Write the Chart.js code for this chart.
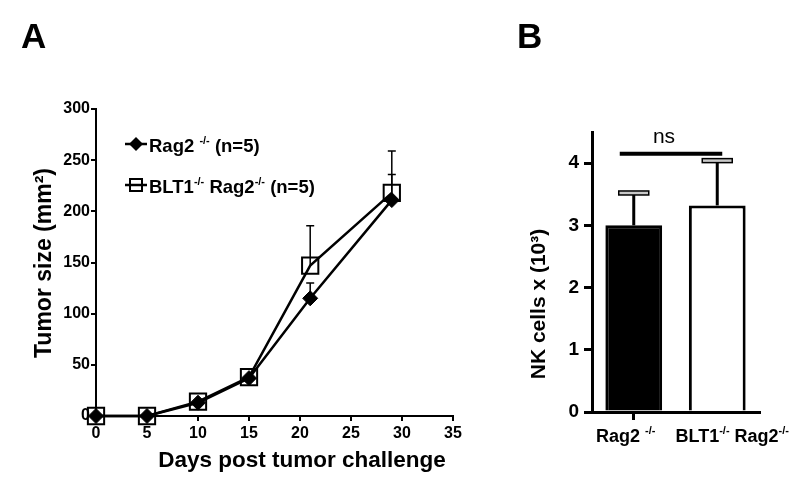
<!DOCTYPE html>
<html><head><meta charset="utf-8">
<script src="https://cdn.jsdelivr.net/npm/chart.js@4.4.0/dist/chart.umd.min.js"></script>
<style>
html,body{margin:0;padding:0;background:#fff;width:800px;height:488px;overflow:hidden}
#wa{position:absolute;left:0;top:0;width:480px;height:488px}
#wb{position:absolute;left:480px;top:0;width:320px;height:488px}
</style></head><body>
<div id="wa"><canvas id="ca" width="480" height="488"></canvas></div>
<div id="wb"><canvas id="cb" width="320" height="488"></canvas></div>
<script>
// ---------- data: panel A ----------
const days = [0, 5, 10, 15, 21, 29];
const rag2Size = [0, 0, 13, 37, 115, 211];
const rag2Err  = [null, null, null, null, 15, 25];
const blt1Size = [0, 0, 14, 38, 147, 218];
const blt1Err  = [null, null, null, null, 39, 41];
const seriesNames = ['Rag2 -/- (n=5)', 'BLT1-/- Rag2-/- (n=5)'];
const xTitleA = 'Days post tumor challenge';
const yTitleA = 'Tumor size (mm\u00B2)';
// ---------- data: panel B ----------
const groups = ['Rag2 -/-', 'BLT1-/- Rag2-/-'];
const nkCells = [3.0, 3.32];
const nkErr = [0.52, 0.72];
const yTitleB = 'NK cells x (10\u00B3)';
const sigLabel = 'ns';
const sigLevel = 4.15;

const FF = '"Liberation Sans", Arial, Helvetica, sans-serif';

function drawRich(ctx, text, x, y, size, align) {
  const parts = text.split(/(-\/-)/).filter(s => s.length);
  const supSize = Math.round(size * 0.6);
  const fnt = sup => `bold ${sup ? supSize : size}px ${FF}`;
  let total = 0;
  const ws = parts.map(p => { ctx.font = fnt(p === '-/-'); const w = ctx.measureText(p).width; total += w; return w; });
  let cx = align === 'center' ? x - total / 2 : x;
  ctx.textAlign = 'left'; ctx.textBaseline = 'alphabetic'; ctx.fillStyle = '#000';
  parts.forEach((p, i) => {
    const sup = p === '-/-';
    ctx.font = fnt(sup);
    ctx.fillText(p, cx, sup ? y - size * 0.42 : y);
    cx += ws[i];
  });
}
function diamond(ctx, x, y, r) {
  ctx.beginPath(); ctx.moveTo(x, y - r); ctx.lineTo(x + r, y); ctx.lineTo(x, y + r); ctx.lineTo(x - r, y); ctx.closePath();
  ctx.fillStyle = '#000'; ctx.fill();
}
function square(ctx, x, y, h) {
  ctx.lineWidth = 2; ctx.strokeStyle = '#000'; ctx.strokeRect(x - h, y - h, 2 * h, 2 * h);
}

const panelA = {
  id: 'panelA',
  beforeDatasetsDraw(chart) {
    const { ctx, scales: { x, y } } = chart;
    ctx.save(); ctx.strokeStyle = '#000'; ctx.lineWidth = 1.5;
    chart.data.datasets.forEach(ds => {
      ds.data.forEach((pt, i) => {
        const e = ds.err[i];
        if (e == null) return;
        const px = x.getPixelForValue(pt.x);
        const y0 = y.getPixelForValue(pt.y), y1 = y.getPixelForValue(pt.y + e);
        ctx.beginPath(); ctx.moveTo(px, y0); ctx.lineTo(px, y1);
        ctx.moveTo(px - 4, y1); ctx.lineTo(px + 4, y1); ctx.stroke();
      });
    });
    ctx.restore();
  },
  afterDraw(chart) {
    const ctx = chart.ctx;
    ctx.save();
    const rows = [144, 185];
    rows.forEach((ry, i) => {
      ctx.strokeStyle = '#000'; ctx.lineWidth = 2.5;
      ctx.beginPath(); ctx.moveTo(125, ry); ctx.lineTo(147, ry); ctx.stroke();
      if (i === 0) diamond(ctx, 136, ry, 7); else square(ctx, 136, ry, 6);
      drawRich(ctx, seriesNames[i], 149, ry + 8, 18.5, 'left');
    });
    ctx.fillStyle = '#000';
    ctx.font = `bold 22.5px ${FF}`; ctx.textAlign = 'center'; ctx.textBaseline = 'alphabetic';
    ctx.fillText(xTitleA, 302, 467);
    ctx.save(); ctx.translate(51, 263); ctx.rotate(-Math.PI / 2);
    ctx.font = `bold 23px ${FF}`; ctx.fillText(yTitleA, 0, 0); ctx.restore();
    ctx.font = `bold 35px ${FF}`; ctx.textAlign = 'left';
    ctx.fillText('A', 21, 48);
    ctx.restore();
  }
};

const axisCommonA = {
  border: { display: true, color: '#000', width: 2 },
  grid: { display: true, drawOnChartArea: false, drawTicks: true, tickLength: 5, color: '#000', lineWidth: 2 },
};

new Chart(document.getElementById('ca'), {
  type: 'line',
  data: {
    datasets: [
      { label: seriesNames[0], data: days.map((d, i) => ({ x: d, y: rag2Size[i] })), err: rag2Err,
        borderColor: '#000', borderWidth: 2.5, pointStyle: 'rectRot', pointRadius: 7.5,
        pointBackgroundColor: '#000', pointBorderColor: '#000', pointBorderWidth: 1, clip: false, tension: 0 },
      { label: seriesNames[1], data: days.map((d, i) => ({ x: d, y: blt1Size[i] })), err: blt1Err,
        borderColor: '#000', borderWidth: 2.5, pointStyle: 'rect', pointRadius: 11.5,
        pointBackgroundColor: 'rgba(255,255,255,0)', pointBorderColor: '#000', pointBorderWidth: 2, clip: false, tension: 0 }
    ]
  },
  options: {
    responsive: false, animation: false, events: [],
    layout: { padding: { top: 109, right: 27, left: 0, bottom: 0 } },
    plugins: { legend: { display: false }, tooltip: { enabled: false } },
    scales: {
      x: Object.assign({ type: 'linear', min: 0, max: 35,
        ticks: { stepSize: 5, color: '#000', font: { family: FF, size: 16, weight: 'bold' }, padding: 3, maxRotation: 0 },
        afterFit(s) { s.height = 72; } }, axisCommonA),
      y: Object.assign({ type: 'linear', min: 0, max: 300,
        ticks: { stepSize: 50, color: '#000', font: { family: FF, size: 16, weight: 'bold' }, padding: 1 },
        afterFit(s) { s.width = 96; } }, axisCommonA)
    }
  },
  plugins: [panelA]
});

// ---------- panel B ----------
const labelShift = [-8, 15];
const panelB = {
  id: 'panelB',
  afterDatasetsDraw(chart) {
    const { ctx, scales: { x, y } } = chart;
    ctx.save();
    chart.data.datasets[0].data.forEach((v, i) => {
      const px = x.getPixelForValue(i);
      const y0 = y.getPixelForValue(v), y1 = y.getPixelForValue(v + nkErr[i]);
      ctx.strokeStyle = '#000'; ctx.lineWidth = 3;
      ctx.beginPath(); ctx.moveTo(px, y0); ctx.lineTo(px, y1); ctx.stroke();
      ctx.fillStyle = '#c8c8c8'; ctx.fillRect(px - 15, y1 - 2, 30, 4);
      ctx.lineWidth = 1.5; ctx.strokeRect(px - 15, y1 - 2, 30, 4);
    });
    const ys = y.getPixelForValue(sigLevel);
    const xa = x.getPixelForValue(0) - 14, xb = x.getPixelForValue(1) + 5;
    ctx.lineWidth = 4; ctx.strokeStyle = '#000';
    ctx.beginPath(); ctx.moveTo(xa, ys); ctx.lineTo(xb, ys); ctx.stroke();
    ctx.fillStyle = '#000'; ctx.font = `21px ${FF}`; ctx.textAlign = 'center'; ctx.textBaseline = 'alphabetic';
    ctx.fillText(sigLabel, (xa + xb) / 2 - 7, ys - 11);
    ctx.restore();
  },
  afterDraw(chart) {
    const { ctx, scales: { x } } = chart;
    ctx.save();
    groups.forEach((g, i) => drawRich(ctx, g, x.getPixelForValue(i) + labelShift[i], 442, 18, 'center'));
    ctx.fillStyle = '#000';
    ctx.save(); ctx.translate(65, 304); ctx.rotate(-Math.PI / 2);
    ctx.font = `bold 21px ${FF}`; ctx.textAlign = 'center'; ctx.textBaseline = 'alphabetic';
    ctx.fillText(yTitleB, 0, 0); ctx.restore();
    ctx.font = `bold 35px ${FF}`; ctx.textAlign = 'left'; ctx.textBaseline = 'alphabetic';
    ctx.fillText('B', 37, 48);
    ctx.restore();
  }
};

new Chart(document.getElementById('cb'), {
  type: 'bar',
  data: {
    labels: groups,
    datasets: [{ data: nkCells, backgroundColor: ['#000', '#fff'], borderColor: '#000', borderWidth: 3,
      barPercentage: 0.68, categoryPercentage: 1 }]
  },
  options: {
    responsive: false, animation: false, events: [],
    layout: { padding: { top: 132, right: 41, left: 0, bottom: 0 } },
    plugins: { legend: { display: false }, tooltip: { enabled: false } },
    scales: {
      x: { type: 'category', offset: true,
        border: { display: true, color: '#000', width: 3 },
        grid: { display: true, offset: false, drawOnChartArea: false, drawTicks: true, tickLength: 8, color: '#000', lineWidth: 3 },
        ticks: { color: 'rgba(0,0,0,0)', font: { family: FF, size: 16, weight: 'bold' } },
        afterFit(s) { s.height = 76; } },
      y: { type: 'linear', min: 0, max: 4.5,
        border: { display: true, color: '#000', width: 3 },
        grid: { display: true, drawOnChartArea: false, drawTicks: true, tickLength: 8, color: '#000', lineWidth: 3 },
        ticks: { stepSize: 1, color: '#000', font: { family: FF, size: 19, weight: 'bold' }, padding: 5 },
        afterBuildTicks(s) { s.ticks = s.ticks.filter(t => Number.isInteger(t.value)); },
        afterFit(s) { s.width = 112; } }
    }
  },
  plugins: [panelB]
});
</script>
</body></html>
